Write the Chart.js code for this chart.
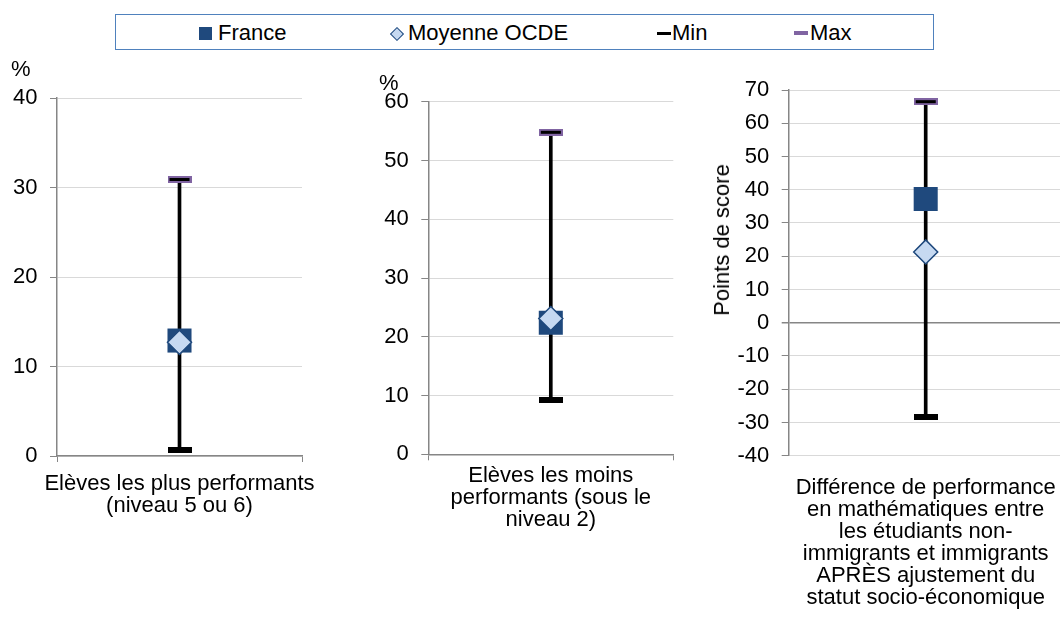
<!DOCTYPE html>
<html><head><meta charset="utf-8">
<script src="https://cdn.jsdelivr.net/npm/chart.js@4.4.1/dist/chart.umd.min.js"></script>
<style>
html,body{margin:0;padding:0;background:#fff;width:1060px;height:621px;overflow:hidden;position:relative;font-family:"Liberation Sans",Arial,sans-serif;}
canvas{position:absolute;top:0;}
.t{position:absolute;font-size:22px;line-height:22px;color:#000;white-space:nowrap;}
#legend{position:absolute;left:115px;top:14px;width:817px;height:34px;border:1.5px solid #4f81bd;}
.mk{position:absolute;}
</style></head><body>
<div id="legend"></div>
<div class="mk" style="left:199px;top:26.5px;width:13px;height:13px;background:#1f497d"></div>
<div class="t" style="left:218px;top:22px">France</div>
<div class="mk" style="left:392px;top:28.5px;width:8px;height:8px;background:#c6d9f1;border:1.5px solid #1f497d;transform:rotate(45deg)"></div>
<div class="t" style="left:408px;top:22px">Moyenne OCDE</div>
<div class="mk" style="left:657px;top:31.5px;width:14px;height:3px;background:#000"></div>
<div class="t" style="left:672px;top:22px">Min</div>
<div class="mk" style="left:794px;top:31px;width:14px;height:4px;background:#8064a2"></div>
<div class="t" style="left:810px;top:22px">Max</div>

<canvas id="c1" width="330" height="621" style="left:0px"></canvas>
<canvas id="c2" width="360" height="621" style="left:340px"></canvas>
<canvas id="c3" width="400" height="621" style="left:690px"></canvas>

<div class="t" style="left:11px;top:58px">%</div>
<div class="t" style="left:379px;top:72px">%</div>
<div class="t" style="left:722px;top:240px;transform:translate(-50%,-50%) rotate(-90deg)">Points de score</div>

<script>
// ---- Data ----
const categories = [
  ["Elèves les plus performants", "(niveau 5 ou 6)"],
  ["Elèves les moins", "performants (sous le", "niveau 2)"],
  ["Différence de performance", "en mathématiques entre", "les étudiants non-", "immigrants et immigrants", "APRÈS ajustement du", "statut socio-économique"]
];
const franceValues = [12.9, 22.4, 37.2];
const oecdValues = [12.7, 23.1, 21.3];
const minValues = [0.7, 9.2, -28.5];
const maxValues = [30.9, 54.8, 66.5];
const axisMin = [0, 0, -40];
const axisMax = [40, 60, 70];
const axisStep = [10, 10, 10];

// ---- Styles ----
Chart.defaults.color = '#000';
Chart.defaults.font.family = '"Liberation Sans", Arial, sans-serif';
Chart.defaults.font.size = 22;

function marker(w, h, fill, stroke, lw) {
  const c = document.createElement('canvas');
  c.width = w; c.height = h;
  const x = c.getContext('2d');
  x.fillStyle = stroke; x.fillRect(0, 0, w, h);
  x.fillStyle = fill; x.fillRect(lw, lw, w - 2 * lw, h - 2 * lw);
  return c;
}
const minMarker = marker(24, 6, '#000', '#000', 0);
const maxMarker = marker(24, 7, '#000', '#8064a2', 2);

const layouts = [
  {id: 'c1', yW: 57, xH: 165, pad: {left: 0, top: 98, right: 28, bottom: 0}, xBorder: true, lblPad: 11},
  {id: 'c2', yW: 88.3, xH: 166.7, pad: {left: 0, top: 101.7, right: 26.7, bottom: 0}, xBorder: true, lblPad: 5},
  {id: 'c3', yW: 98.7, xH: 165.3, pad: {left: 0, top: 90, right: 27.3, bottom: 0}, xBorder: false, lblPad: 15}
];

layouts.forEach((L, i) => {
  new Chart(document.getElementById(L.id), {
    type: 'bar',
    data: {
      labels: [categories[i]],
      datasets: [
        {type: 'bar', label: 'range', data: [[minValues[i], maxValues[i]]], backgroundColor: '#000', barThickness: 3, order: 10},
        {type: 'line', label: 'Min', data: [minValues[i]], showLine: false, pointStyle: minMarker, order: 5},
        {type: 'line', label: 'Max', data: [maxValues[i]], showLine: false, pointStyle: maxMarker, order: 5},
        {type: 'line', label: 'France', data: [franceValues[i]], showLine: false, pointStyle: 'rect', pointRadius: 17,
         backgroundColor: '#1f497d', borderColor: '#1f497d', borderWidth: 0, order: 3},
        {type: 'line', label: 'Moyenne OCDE', data: [oecdValues[i]], showLine: false, pointStyle: 'rectRot', pointRadius: 12,
         backgroundColor: '#c6d9f1', borderColor: '#1f497d', borderWidth: 1.5, order: 1}
      ]
    },
    options: {
      responsive: false,
      animation: false,
      events: [],
      layout: {padding: L.pad},
      plugins: {legend: {display: false}, tooltip: {enabled: false}, title: {display: false}},
      scales: {
        x: {
          offset: true,
          afterFit: s => { s.height = L.xH; s.paddingLeft = 0; s.paddingRight = 0; },
          border: {display: L.xBorder, color: '#868686', width: 1.5},
          grid: {display: L.xBorder, drawOnChartArea: false, drawTicks: true, tickLength: 6, tickColor: '#868686', offset: true},
          ticks: {maxRotation: 0, minRotation: 0, autoSkip: false, padding: L.lblPad,
                  font: {size: 22, lineHeight: 1.0}, color: '#000'}
        },
        y: {
          min: axisMin[i], max: axisMax[i],
          afterFit: s => { s.width = L.yW; s.paddingTop = 0; s.paddingBottom = 0; },
          border: {display: true, color: '#868686', width: 1.5},
          grid: {color: c => (c.tick && c.tick.value === 0 && axisMin[i] < 0) ? '#868686' : '#d9d9d9',
                 lineWidth: c => (c.tick && c.tick.value === 0 && axisMin[i] < 0) ? 1.5 : 1,
                 tickLength: 7, tickColor: '#868686'},
          ticks: {stepSize: axisStep[i], padding: 12.5, font: {size: 22}, color: '#000'}
        }
      }
    }
  });
});
</script>
</body></html>
